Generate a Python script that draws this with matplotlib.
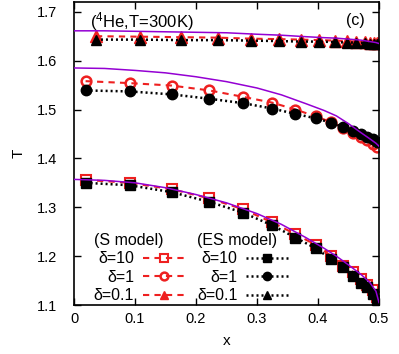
import matplotlib
matplotlib.use('Agg')
import matplotlib.pyplot as plt
import numpy as np

plt.rcParams['font.family'] = ['Liberation Sans', 'DejaVu Sans']
plt.rcParams['mathtext.fontset'] = 'custom'
plt.rcParams['mathtext.rm'] = 'Liberation Sans'
plt.rcParams['mathtext.it'] = 'Liberation Sans'

# grid of the kinetic points (delta=10 and delta=1)
x_pts = [0.019, 0.091, 0.160, 0.222, 0.277, 0.325, 0.363, 0.396, 0.422,
         0.441, 0.458, 0.470, 0.480, 0.490, 0.497]
# grid of the delta=0.1 points
x_tri = [0.036, 0.108, 0.175, 0.236, 0.290, 0.336, 0.372, 0.402, 0.428,
         0.447, 0.463, 0.477, 0.485, 0.492, 0.497]

# S model
S_d10 = [1.356, 1.350, 1.337, 1.318, 1.296, 1.269, 1.245, 1.223, 1.200,
         1.180, 1.167, 1.153, 1.140, 1.130, 1.116]
S_d1 = [1.558, 1.554, 1.549, 1.539, 1.526, 1.514, 1.500, 1.486, 1.474,
        1.463, 1.452, 1.443, 1.437, 1.430, 1.423]
S_d01 = [1.650, 1.649, 1.648, 1.647, 1.645, 1.644, 1.643, 1.642, 1.641,
         1.640, 1.639, 1.638, 1.637, 1.637, 1.636]

# ES model
ES_d10 = [1.350, 1.345, 1.331, 1.311, 1.289, 1.263, 1.238, 1.216, 1.194,
          1.177, 1.160, 1.146, 1.136, 1.122, 1.111]
ES_d1 = [1.539, 1.537, 1.531, 1.522, 1.513, 1.502, 1.491, 1.482, 1.473,
         1.464, 1.456, 1.449, 1.443, 1.439, 1.434]
ES_d01 = [1.643, 1.643, 1.642, 1.642, 1.641, 1.640, 1.639, 1.639, 1.638,
          1.637, 1.637, 1.636, 1.635, 1.635, 1.634]

# reference (solid purple) curves
x_ref = [0, 0.05, 0.1, 0.15, 0.2, 0.25, 0.3, 0.34, 0.38, 0.41, 0.43,
         0.45, 0.47, 0.485, 0.495, 0.5]
ref_top = [1.661, 1.661, 1.660, 1.659, 1.658, 1.657, 1.654, 1.652, 1.649,
           1.647, 1.646, 1.644, 1.642, 1.639, 1.637, 1.635]
ref_mid = [1.585, 1.584, 1.580, 1.575, 1.567, 1.557, 1.544, 1.530, 1.512,
           1.498, 1.487, 1.471, 1.453, 1.440, 1.431, 1.425]
ref_bot = [1.357, 1.355, 1.350, 1.340, 1.326, 1.309, 1.287, 1.265, 1.238,
           1.216, 1.200, 1.182, 1.163, 1.146, 1.128, 1.105]

red = '#ee2020'
purple = '#9400d3'
dash = (0, (3, 2.5))
dot = (0, (0.8, 1.2))

fig = plt.figure(figsize=(3.99, 3.54), dpi=100)
ax = fig.add_axes([0.1855, 0.1384, 0.7644, 0.8560])

s1, = ax.plot(x_pts, S_d10, linestyle=dash, color=red, lw=1.5, marker='s',
              ms=7, mfc='none', mec=red, mew=1.5)
s2, = ax.plot(x_pts, S_d1, linestyle=dash, color=red, lw=1.5, marker='o',
              ms=7, mfc='none', mec=red, mew=1.8)
s3, = ax.plot(x_tri, S_d01, linestyle=dash, color=red, lw=1.5, marker='^',
              ms=8, mfc=red, mec=red)
e1, = ax.plot(x_pts, ES_d10, linestyle=dot, color='black', lw=1.8,
              marker='s', ms=7, mfc='black', mec='black')
e2, = ax.plot(x_pts, ES_d1, linestyle=dot, color='black', lw=1.8,
              marker='o', ms=7.5, mfc='black', mec='black')
e3, = ax.plot(x_tri, ES_d01, linestyle=dot, color='black', lw=1.8,
              marker='^', ms=7, mfc='black', mec='black')

for yy in (ref_top, ref_mid, ref_bot):
    ax.plot(x_ref, yy, color=purple, lw=1.1, zorder=5)

ax.set_xlim(0, 0.5)
ax.set_ylim(1.1, 1.72)
ax.set_xticks([0, 0.1, 0.2, 0.3, 0.4, 0.5])
ax.set_xticklabels(['0', '0.1', '0.2', '0.3', '0.4', '0.5'])
ax.set_yticks([1.1, 1.2, 1.3, 1.4, 1.5, 1.6, 1.7])
ax.tick_params(direction='in', top=True, right=True, length=5, width=1,
               labelsize=10.5)
ax.tick_params(axis='y', pad=12)
ax.tick_params(axis='x', pad=5)
for sp in ax.spines.values():
    sp.set_linewidth(1.2)

ax.set_xlabel('x', fontsize=11, labelpad=6)
ax.set_ylabel('T', fontsize=11, rotation=90, labelpad=8)

ax.text(0.052, 0.935, r'($^4$He,T=300K)', transform=ax.transAxes,
        fontsize=12, va='center')
ax.text(0.893, 0.94, '(c)', transform=ax.transAxes, fontsize=11.5,
        va='center')

leg_kw = dict(frameon=False, markerfirst=False, handlelength=2.6,
              handletextpad=0.55, labelspacing=0.22, fontsize=11.5,
              title_fontsize=11.5, alignment='left', borderpad=0,
              borderaxespad=0, markerscale=0.8)
legS = ax.legend([s1, s2, s3], ['δ=10', 'δ=1', 'δ=0.1'],
                 title='(S model)', loc='upper left',
                 bbox_to_anchor=(0.065, 0.238), **leg_kw)
ax.add_artist(legS)
ax.legend([e1, e2, e3], ['δ=10', 'δ=1', 'δ=0.1'],
          title='(ES model)', loc='upper left',
          bbox_to_anchor=(0.403, 0.238), **leg_kw)

fig.savefig('out.png', dpi=100)
